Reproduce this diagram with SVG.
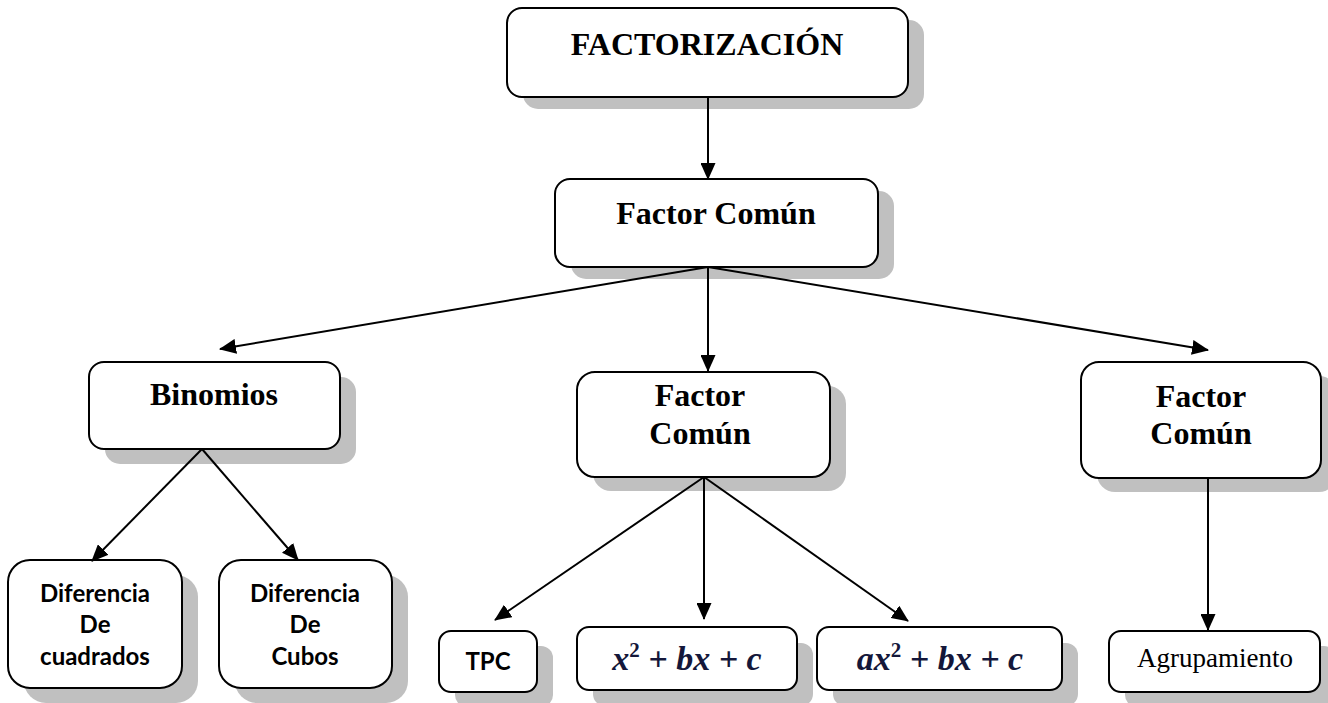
<svg xmlns="http://www.w3.org/2000/svg" width="1328" height="703" viewBox="0 0 1328 703">
<style>
.box{fill:#fff;stroke:#000;stroke-width:2}
.sh{fill:#c0c0c0}
.t{font-family:"Liberation Serif",serif;font-weight:bold;font-size:32px;text-anchor:middle;fill:#000}
.c{font-family:Lato,"Liberation Sans",sans-serif;font-weight:bold;font-size:24px;text-anchor:middle;fill:#000}
.m{font-family:"Liberation Serif",serif;font-weight:bold;font-style:italic;font-size:34px;text-anchor:middle;fill:#14173a}
.s{font-style:normal;font-size:21px}
.r{font-family:"Liberation Serif",serif;font-size:27px;text-anchor:middle;fill:#000}
.ln{stroke:#000;stroke-width:2;fill:none;marker-end:url(#ah)}
</style>
<defs>
<marker id="ah" markerUnits="userSpaceOnUse" markerWidth="17" markerHeight="15" refX="16" refY="7.5" orient="auto">
<path d="M0,0 L17,7.5 L0,15 z" fill="#000"/>
</marker>
</defs>
<g id="factorizacion">
<rect class="sh" x="523" y="20" width="401" height="89" rx="15"/>
<rect class="box" x="507" y="8" width="401" height="89" rx="15"/>
<text class="t" x="707" y="55">FACTORIZACIÓN</text>
</g>
<g id="factor-comun">
<rect class="sh" x="571" y="191" width="323" height="88" rx="15"/>
<rect class="box" x="555" y="179" width="323" height="88" rx="15"/>
<text class="t" x="716" y="224">Factor Común</text>
</g>
<g id="binomios">
<rect class="sh" x="105" y="377" width="251" height="87" rx="15"/>
<rect class="box" x="89" y="362" width="251" height="87" rx="15"/>
<text class="t" x="214" y="405">Binomios</text>
</g>
<g id="factor-comun-2">
<rect class="sh" x="593" y="386" width="253" height="105" rx="18"/>
<rect class="box" x="577" y="372" width="253" height="105" rx="18"/>
<text class="t" x="700" y="406">Factor</text>
<text class="t" x="700" y="444">Común</text>
</g>
<g id="factor-comun-3">
<rect class="sh" x="1097" y="376" width="240" height="116" rx="18"/>
<rect class="box" x="1081" y="362" width="240" height="116" rx="18"/>
<text class="t" x="1201" y="407">Factor</text>
<text class="t" x="1201" y="444">Común</text>
</g>
<g id="dif-cuadrados">
<rect class="sh" x="24" y="575" width="174" height="128" rx="22"/>
<rect class="box" x="8" y="560" width="174" height="128" rx="22"/>
<text class="c" x="95" y="602">Diferencia</text>
<text class="c" x="95" y="633">De</text>
<text class="c" x="95" y="665">cuadrados</text>
</g>
<g id="dif-cubos">
<rect class="sh" x="235" y="575" width="173" height="128" rx="22"/>
<rect class="box" x="219" y="560" width="173" height="128" rx="22"/>
<text class="c" x="305" y="602">Diferencia</text>
<text class="c" x="305" y="633">De</text>
<text class="c" x="305" y="665">Cubos</text>
</g>
<g id="tpc">
<rect class="sh" x="455" y="646" width="98" height="61" rx="12"/>
<rect class="box" x="439" y="631" width="98" height="61" rx="12"/>
<text class="c" x="488" y="670">TPC</text>
</g>
<g id="x2bxc">
<rect class="sh" x="593" y="643" width="220" height="63" rx="12"/>
<rect class="box" x="577" y="627" width="220" height="63" rx="12"/>
<text class="m" x="687" y="670" xml:space="preserve">x<tspan class="s" dy="-13">2</tspan><tspan dy="13"> + bx + c</tspan></text>
</g>
<g id="ax2bxc">
<rect class="sh" x="833" y="643" width="245" height="63" rx="12"/>
<rect class="box" x="817" y="627" width="245" height="63" rx="12"/>
<text class="m" x="940" y="670" xml:space="preserve">ax<tspan class="s" dy="-13">2</tspan><tspan dy="13"> + bx + c</tspan></text>
</g>
<g id="agrupamiento">
<rect class="sh" x="1125" y="646" width="211" height="61" rx="12"/>
<rect class="box" x="1109" y="631" width="211" height="61" rx="12"/>
<text class="r" x="1215" y="667">Agrupamiento</text>
</g>
<g id="connectors">
<line class="ln" x1="708" y1="97" x2="708" y2="179"/>
<line class="ln" x1="708" y1="267" x2="220" y2="349"/>
<line class="ln" x1="708" y1="267" x2="708" y2="371"/>
<line class="ln" x1="708" y1="267" x2="1208" y2="350"/>
<line class="ln" x1="202" y1="449" x2="92" y2="561"/>
<line class="ln" x1="202" y1="449" x2="298" y2="560"/>
<line class="ln" x1="704" y1="477" x2="495" y2="620"/>
<line class="ln" x1="704" y1="477" x2="704" y2="619"/>
<line class="ln" x1="704" y1="477" x2="908" y2="621"/>
<line class="ln" x1="1208" y1="478" x2="1208" y2="630"/>
</g>
</svg>
